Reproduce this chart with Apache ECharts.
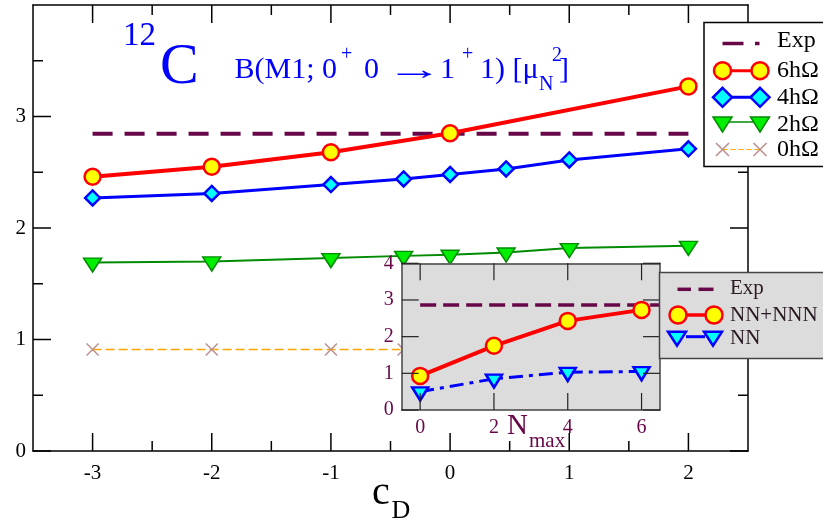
<!DOCTYPE html>
<html>
<head>
<meta charset="utf-8">
<script src="https://cdn.jsdelivr.net/npm/echarts@6/dist/echarts.min.js"></script>
<style>
html,body{margin:0;padding:0;background:#fff;}
#chart{width:823px;height:523px;}
</style>
</head>
<body>
<div id="chart"></div>
<script>
// ---- data ----
const cdAll = [-3, -2, -1, -0.39, 0, 0.47, 1, 2];
const cd6 = [-3, -2, -1, 0, 2];
const b6hw = [2.46, 2.55, 2.68, 2.85, 3.27];
const b4hw = [2.27, 2.31, 2.39, 2.44, 2.48, 2.53, 2.61, 2.71];
const b2hw = [1.69, 1.70, 1.73, 1.75, 1.76, 1.78, 1.82, 1.84];
const cd0 = [-3, -2, -1, -0.39];
const b0hw = [0.91, 0.91, 0.91, 0.91];
const expValue = 2.845;
const expRange = [-3, 2];

const nmax = [0, 2, 4, 6];
const bNNNNN = [0.93, 1.75, 2.43, 2.73];
const bNN = [0.50, 0.85, 1.03, 1.05];
const expInsetValue = 2.86;
const expInsetRange = [0, 6.5];

const xTicks = [-3, -2, -1, 0, 1, 2];
const xMinorTicks = [-2.5, -1.5, -0.5, 0.5, 1.5];
const yTicks = [0, 1, 2, 3];
const yMinorTicks = [0.5, 1.5, 2.5, 3.5];
const insetXTicks = [0, 2, 4, 6];
const insetYTicks = [0, 1, 2, 3, 4];

// ---- styles ----
const SERIF = 'Liberation Serif';
const MAROON = '#670748';
const RED = '#ff0000', YELLOW = '#ffff00', BLUE = '#0000ff', CYAN = '#00ffff';
const GREEN = '#00ee00', GREEN4 = '#008b00', BROWN = '#bc8f8f', ORANGE = '#ffa500';
const CROSS = 'path://M0,1.1L1.1,0L7,5.9L12.9,0L14,1.1L8.1,7L14,12.9L12.9,14L7,8.1L1.1,14L0,12.9L5.9,7Z';
const MAIN_X = [-3.5, 2.5], MAIN_Y = [0, 4], INSET_X = [-0.5, 6.5], INSET_Y = [0, 4];
const MAIN_RECT = {left: 33, top: 5, width: 715, height: 446};
const INSET_RECT = {left: 401.7, top: 263.3, width: 258.3, height: 146.7};

const zip = (xs, ys) => xs.map((x, i) => [x, ys[i]]);

function frameAxis(opt, lineColor) {
  return Object.assign({
    type: 'value',
    axisLine: {show: true, onZero: false, lineStyle: {color: lineColor, width: 1.5}},
    splitLine: {show: false},
    axisLabel: {show: false},
    axisTick: {show: false}
  }, opt);
}

const xAxes = [
  frameAxis({gridIndex: 0, position: 'bottom', min: MAIN_X[0], max: MAIN_X[1], z: 2,
    axisLabel: {show: true, customValues: xTicks, margin: 12, fontFamily: SERIF, fontSize: 21, color: '#000'}}, '#000'),
  frameAxis({gridIndex: 0, position: 'top', min: MAIN_X[0], max: MAIN_X[1], z: 2}, '#000'),
  frameAxis({gridIndex: 1, position: 'bottom', min: INSET_X[0], max: INSET_X[1], z: 6,
    axisLabel: {show: true, customValues: insetXTicks, margin: 8, fontFamily: SERIF, fontSize: 20, color: MAROON}}, '#444'),
  frameAxis({gridIndex: 1, position: 'top', min: INSET_X[0], max: INSET_X[1], z: 6}, '#444')
];
const yAxes = [
  frameAxis({gridIndex: 0, position: 'left', min: MAIN_Y[0], max: MAIN_Y[1], interval: 1, z: 2,
    axisLabel: {show: true, customValues: yTicks, margin: 7, fontFamily: SERIF, fontSize: 21, color: '#000'}}, '#000'),
  frameAxis({gridIndex: 0, position: 'right', min: MAIN_Y[0], max: MAIN_Y[1], interval: 1, z: 2}, '#000'),
  frameAxis({gridIndex: 1, position: 'left', min: INSET_Y[0], max: INSET_Y[1], interval: 1, z: 6,
    axisLabel: {show: true, customValues: insetYTicks, margin: 8, fontFamily: SERIF, fontSize: 20, color: MAROON}}, '#444'),
  frameAxis({gridIndex: 1, position: 'right', min: INSET_Y[0], max: INSET_Y[1], interval: 1, z: 6}, '#444')
];

const base = {type: 'line', animation: false, emphasis: {disabled: true}, showAllSymbol: true};
const series = [
  Object.assign({}, base, {name: '0hΩ', xAxisIndex: 0, yAxisIndex: 0, z: 1,
    data: zip(cd0, b0hw), symbol: CROSS, symbolSize: 13,
    lineStyle: {color: ORANGE, width: 1.5, type: [9, 4]}, itemStyle: {color: BROWN}}),
  Object.assign({}, base, {name: '2hΩ', xAxisIndex: 0, yAxisIndex: 0, z: 1,
    data: zip(cdAll, b2hw), symbol: 'triangle', symbolRotate: 180, symbolSize: [18, 14], symbolOffset: [0, 2.5],
    lineStyle: {color: GREEN4, width: 2}, itemStyle: {color: GREEN, borderColor: GREEN4, borderWidth: 1.5}}),
  Object.assign({}, base, {name: '4hΩ', xAxisIndex: 0, yAxisIndex: 0, z: 1,
    data: zip(cdAll, b4hw), symbol: 'diamond', symbolSize: 15,
    lineStyle: {color: BLUE, width: 3}, itemStyle: {color: CYAN, borderColor: BLUE, borderWidth: 2.5}}),
  Object.assign({}, base, {name: 'Exp', xAxisIndex: 0, yAxisIndex: 0, z: 1,
    data: expRange.map(x => [x, expValue]), symbol: 'none',
    lineStyle: {color: MAROON, width: 4, type: [20, 12]}}),
  Object.assign({}, base, {name: '6hΩ', xAxisIndex: 0, yAxisIndex: 0, z: 1,
    data: zip(cd6, b6hw), symbol: 'circle', symbolSize: 16,
    lineStyle: {color: RED, width: 4}, itemStyle: {color: YELLOW, borderColor: RED, borderWidth: 2.5}}),
  // inset
  Object.assign({}, base, {name: 'Exp (inset)', xAxisIndex: 2, yAxisIndex: 2, z: 5,
    data: expInsetRange.map(x => [x, expInsetValue]), symbol: 'none',
    lineStyle: {color: MAROON, width: 3.5, type: [16, 7]}}),
  Object.assign({}, base, {name: 'NN', xAxisIndex: 2, yAxisIndex: 2, z: 5,
    data: zip(nmax, bNN), symbol: 'triangle', symbolRotate: 180, symbolSize: [16, 13], symbolOffset: [0, 2.2],
    lineStyle: {color: BLUE, width: 3, type: [14, 6, 4, 6]}, itemStyle: {color: CYAN, borderColor: BLUE, borderWidth: 2.5}}),
  Object.assign({}, base, {name: 'NN+NNN', xAxisIndex: 2, yAxisIndex: 2, z: 5,
    data: zip(nmax, bNNNNN), symbol: 'circle', symbolSize: 16,
    lineStyle: {color: RED, width: 4}, itemStyle: {color: YELLOW, borderColor: RED, borderWidth: 2.5}})
];

// ---- annotations & legends (graphic) ----
const T = (text, x, y, size, color, extra) => Object.assign({type: 'text', z: 20, x: x, y: y,
  style: {text: text, fontFamily: SERIF, fontSize: size, fill: color, align: 'left', verticalAlign: 'middle'}}, extra || {});
const L = (x1, y1, x2, y2, color, w, dash, z) => {
  const st = {stroke: color, lineWidth: w};
  if (dash) st.lineDash = dash;
  return {type: 'line', z: z || 20, shape: {x1: x1, y1: y1, x2: x2, y2: y2}, style: st};
};
const C = (cx, cy, r) => ({type: 'circle', z: 21, shape: {cx: cx, cy: cy, r: r}, style: {fill: YELLOW, stroke: RED, lineWidth: 2.5}});
const D = (cx, cy, h) => ({type: 'polygon', z: 21, shape: {points: [[cx, cy - h], [cx + h, cy], [cx, cy + h], [cx - h, cy]]},
  style: {fill: CYAN, stroke: BLUE, lineWidth: 2.5}});
const TR = (cx, top, w, h, fill, stroke, lw) => ({type: 'polygon', z: 21, shape: {points: [[cx - w / 2, top], [cx + w / 2, top], [cx, top + h]]},
  style: {fill: fill, stroke: stroke, lineWidth: lw}});
const X1 = (cx, cy, h) => L(cx - h, cy - h, cx + h, cy + h, BROWN, 1.6, null, 21);
const X2 = (cx, cy, h) => L(cx - h, cy + h, cx + h, cy - h, BROWN, 1.6, null, 21);

// inward frame ticks: positions follow the same linear mapping as the value axes (extent -> grid rect)
function frameTicks(rect, xr, yr, xMaj, xMin, yMaj, yMin, majLen, minLen, color, width, z) {
  const px = v => rect.left + (v - xr[0]) / (xr[1] - xr[0]) * rect.width;
  const py = v => rect.top + (yr[1] - v) / (yr[1] - yr[0]) * rect.height;
  const xl = rect.left, xrr = rect.left + rect.width, yt = rect.top, yb = rect.top + rect.height;
  const out = [];
  const addX = (vals, len) => vals.forEach(v => { const x = px(v);
    out.push(L(x, yb, x, yb - len, color, width, null, z), L(x, yt, x, yt + len, color, width, null, z)); });
  const addY = (vals, len) => vals.forEach(v => { const y = py(v);
    out.push(L(xl, y, xl + len, y, color, width, null, z), L(xrr, y, xrr - len, y, color, width, null, z)); });
  addX(xMaj, majLen); addX(xMin, minLen); addY(yMaj, majLen); addY(yMin, minLen);
  return out;
}
const tickEls = frameTicks(MAIN_RECT, MAIN_X, MAIN_Y, xTicks, xMinorTicks, yTicks, yMinorTicks, 18, 10, '#000', 1.5, 17)
  .concat(frameTicks(INSET_RECT, INSET_X, INSET_Y, insetXTicks, [], insetYTicks, [], 17, 0, '#222', 1.2, 18));

const graphics = tickEls.concat([
  // title
  T('12', 123, 36, 33, BLUE),
  T('C', 160, 68, 58, BLUE),
  T('B(M1; 0', 234.5, 70, 30, BLUE),
  T('+', 341, 55, 20, BLUE),
  T('0', 364, 70, 30, BLUE),
  T('→', 386, 71, 30, BLUE, {scaleX: 1.9}),
  T('1', 440, 70, 30, BLUE),
  T('+', 462, 55, 20, BLUE),
  T('1) [μ', 480, 70, 30, BLUE),
  T('N', 539, 85, 20, BLUE),
  T('2', 552, 56, 20, BLUE),
  T(']', 559, 70, 30, BLUE),
  // axis titles
  T('c', 372, 493.5, 40, '#000'),
  T('D', 391.5, 511, 26, '#000'),
  T('N', 507, 426, 29, MAROON),
  T('max', 529, 441, 21, MAROON),
  // main legend
  {type: 'rect', z: 19, shape: {x: 704, y: 22.5, width: 130, height: 144}, style: {fill: '#fff', stroke: '#000', lineWidth: 1.5}},
  L(722.5, 43.5, 743.5, 43.5, MAROON, 3.5), L(755, 43.5, 759.5, 43.5, MAROON, 3.5),
  T('Exp', 777, 41, 24, '#000'),
  L(722.5, 70.7, 760, 70.7, RED, 3), C(722.5, 70.7, 8.5), C(760, 70.7, 8.5),
  T('6hΩ', 777, 70.7, 24, '#000'),
  L(722.5, 97.3, 760, 97.3, BLUE, 3), D(722.5, 97.3, 9.5), D(760, 97.3, 9.5),
  T('4hΩ', 777, 97.3, 24, '#000'),
  L(722.5, 122, 760, 122, GREEN4, 1.5), TR(722.5, 117, 19, 15, GREEN, GREEN4, 1.5), TR(760, 117, 19, 15, GREEN, GREEN4, 1.5),
  T('2hΩ', 777, 124.5, 24, '#000'),
  L(722.5, 149.5, 760, 149.5, ORANGE, 1.2, [5, 3]),
  X1(722.5, 149.5, 6.5), X2(722.5, 149.5, 6.5), X1(760, 149.5, 6.5), X2(760, 149.5, 6.5),
  T('0hΩ', 777, 149.5, 24, '#000'),
  // inset legend
  {type: 'rect', z: 19, shape: {x: 659.5, y: 272.5, width: 170, height: 86}, style: {fill: '#dcdcdc', stroke: '#444', lineWidth: 1.5}},
  L(677.5, 289.3, 691, 289.3, MAROON, 3.5), L(698.5, 289.3, 713.5, 289.3, MAROON, 3.5),
  T('Exp', 730, 288.5, 21, '#2a1a24'),
  L(678, 315, 714, 315, RED, 3.5), C(678, 315, 8.5), C(714, 315, 8.5),
  T('NN+NNN', 730, 315, 21, '#2a1a24'),
  L(686, 336.7, 705, 336.7, BLUE, 3), TR(677, 331.7, 18, 14, CYAN, BLUE, 2.5), TR(713, 331.7, 18, 14, CYAN, BLUE, 2.5),
  T('NN', 730, 338, 21, '#2a1a24')
]);

const chart = echarts.init(document.getElementById('chart'), null, {renderer: 'canvas'});
chart.setOption({
  animation: false,
  backgroundColor: '#fff',
  grid: [
    Object.assign({show: true, backgroundColor: '#fff', borderWidth: 0}, MAIN_RECT),
    Object.assign({show: true, backgroundColor: '#dcdcdc', borderWidth: 0, z: 3}, INSET_RECT)
  ],
  xAxis: xAxes,
  yAxis: yAxes,
  series: series,
  graphic: {elements: graphics}
});
</script>
</body>
</html>
